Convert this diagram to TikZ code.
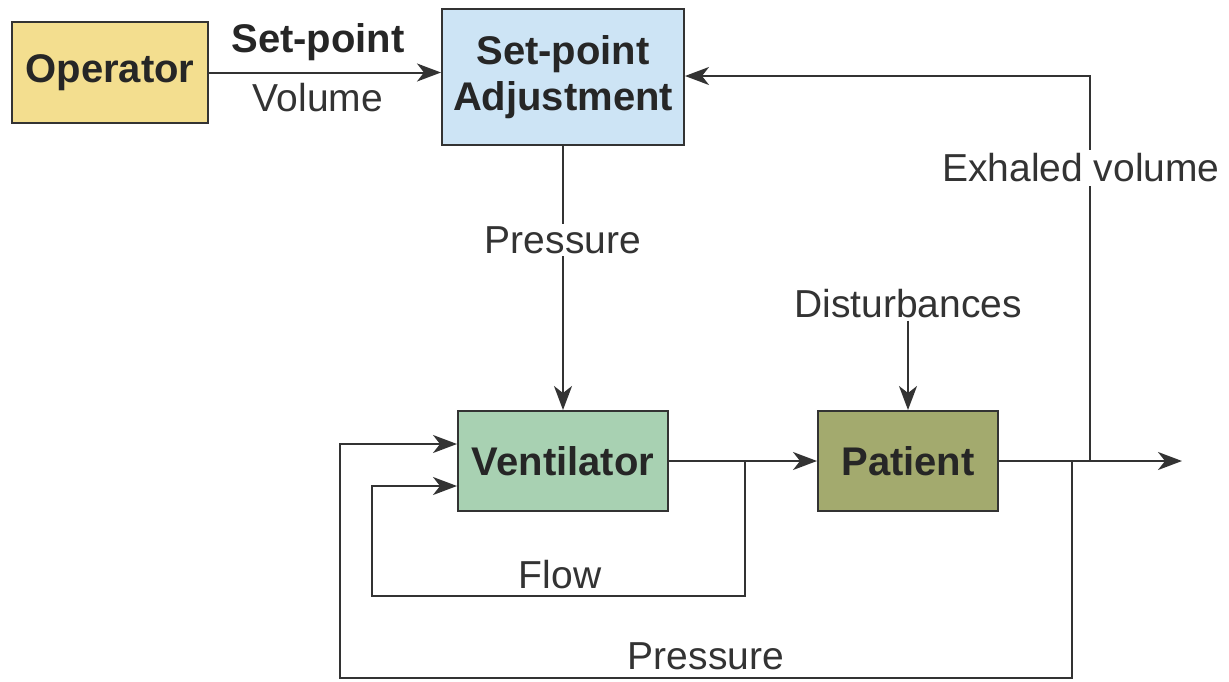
\documentclass[tikz,border=0pt]{standalone}
\usepackage{fontspec}
\setmainfont{Liberation Sans}
\usetikzlibrary{arrows.meta}
\definecolor{opfill}{HTML}{F3DE8F}
\definecolor{spfill}{HTML}{CDE4F5}
\definecolor{vefill}{HTML}{A8D1B2}
\definecolor{pafill}{HTML}{A3AA6E}
\definecolor{ln}{HTML}{333333}
\definecolor{tx}{HTML}{333333}
\begin{document}
\begin{tikzpicture}[x=1pt,y=-1pt,
  blk/.style={draw=ln,line width=2pt,font=\fontsize{40}{44}\selectfont\bfseries,text=black!85,align=center,inner sep=0pt},
  lbl/.style={font=\fontsize{39}{44}\selectfont,text=tx,inner sep=2pt},
  conn/.style={draw=ln,line width=2pt,-{Stealth[length=24pt,width=18pt,inset=7pt]}},
  wire/.style={draw=ln,line width=2pt}]
\useasboundingbox (0,0) rectangle (1229,681);
\node[blk,fill=opfill,minimum width=196pt,minimum height=101pt] (op) at (110,72.5) {Operator};
\node[blk,fill=spfill,minimum width=242pt,minimum height=136pt] (sp) at (563,77) {Set-point\\[2pt]Adjustment};
\node[blk,fill=vefill,minimum width=210pt,minimum height=100pt] (ve) at (563,461) {Ventilator};
\node[blk,fill=pafill,minimum width=180pt,minimum height=100pt] (pa) at (908,461) {Patient};
% operator -> set-point
\draw[conn] (op.east) -- (op.east -| sp.west);
\node[lbl,font=\fontsize{40}{44}\selectfont\bfseries,text=black!85] (tsp) at (318,42) {Set-point};
\node[lbl] (tvol) at (318,98) {Volume};
% set-point -> ventilator
\draw[conn] (sp.south) -- (ve.north);
\node[lbl,fill=white] (tpr1) at (563,240) {Pressure};
% ventilator -> patient
\draw[conn] (ve.east) -- (pa.west);
% patient -> out
\coordinate (out) at (1182,461);
\draw[conn] (pa.east) -- (out);
% flow loop
\coordinate (f1) at (745,461);
\coordinate (f2) at (745,596);
\coordinate (f3) at (372,596);
\coordinate (f4) at (372,486);
\coordinate (f5) at (ve.west |- f4);
\draw[conn] (f1) -- (f2) -- (f3) -- (f4) -- (f5);
\node[lbl] (tflow) at (560,575) {Flow};
% pressure loop
\coordinate (p1) at (1072,461);
\coordinate (p2) at (1072,678);
\coordinate (p3) at (340,678);
\coordinate (p4) at (340,444);
\coordinate (p5) at (ve.west |- p4);
\draw[conn] (p1) -- (p2) -- (p3) -- (p4) -- (p5);
\node[lbl] (tpr2) at (706,656) {Pressure};
% exhaled volume
\coordinate (e1) at (1090,461);
\coordinate (e2) at (1090,76);
\coordinate (e3) at (sp.east |- e2);
\draw[conn] (e1) -- (e2) -- (e3);
\node[lbl,fill=white,inner sep=4pt] (tex) at (1081,168) {Exhaled volume};
% disturbances
\node[lbl] (tdis) at (908,304) {Disturbances};
\draw[conn] (tdis.south) -- (pa.north);
\end{tikzpicture}
\end{document}
